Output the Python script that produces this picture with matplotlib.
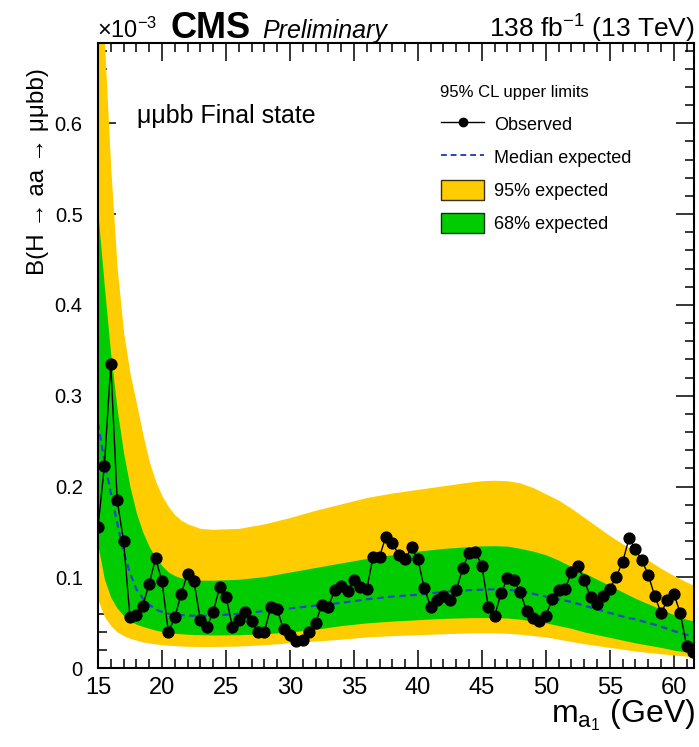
import numpy as np
import matplotlib
matplotlib.use('Agg')
from matplotlib import pyplot as plt
from matplotlib.patches import Patch
from matplotlib.lines import Line2D
from matplotlib.ticker import MultipleLocator, FuncFormatter

plt.rcParams['font.family'] = ['Liberation Sans', 'DejaVu Sans']
plt.rcParams['mathtext.fontset'] = 'custom'
plt.rcParams['mathtext.rm'] = 'Liberation Sans'
plt.rcParams['mathtext.it'] = 'Liberation Sans:italic'

# 観測値 (単位 1e-3)
obs_mass = np.arange(15.0, 61.51, 0.5)
obs_limit = [0.155, 0.223, 0.335, 0.185, 0.140, 0.056, 0.059, 0.069, 0.093, 0.121,
             0.096, 0.040, 0.056, 0.082, 0.104, 0.096, 0.053, 0.045, 0.062, 0.089,
             0.079, 0.046, 0.053, 0.062, 0.052, 0.040, 0.040, 0.067, 0.065, 0.043,
             0.037, 0.030, 0.031, 0.040, 0.050, 0.070, 0.068, 0.086, 0.091, 0.085,
             0.097, 0.089, 0.087, 0.123, 0.123, 0.145, 0.138, 0.125, 0.120, 0.133,
             0.120, 0.088, 0.068, 0.075, 0.080, 0.075, 0.086, 0.110, 0.127, 0.128,
             0.113, 0.068, 0.058, 0.083, 0.099, 0.097, 0.084, 0.063, 0.055, 0.052,
             0.058, 0.076, 0.086, 0.087, 0.106, 0.113, 0.097, 0.078, 0.071, 0.080,
             0.087, 0.101, 0.117, 0.143, 0.131, 0.119, 0.103, 0.080, 0.061, 0.075,
             0.082, 0.061, 0.025, 0.018]

# 期待値バンド
band_mass = [15, 15.5, 16, 16.5, 17, 17.5, 18, 18.5, 19, 19.5, 20, 20.5, 21, 21.5,
             22, 23, 24, 26, 28, 30, 32, 34, 36, 38, 40, 42, 44, 45, 46, 47, 48,
             49, 50, 51, 52, 53, 54, 55, 56, 57, 58, 59, 60, 61, 61.6]
median = [0.270, 0.228, 0.193, 0.160, 0.128, 0.105, 0.087, 0.077, 0.070, 0.065,
          0.062, 0.060, 0.059, 0.0585, 0.058, 0.0578, 0.058, 0.060, 0.063, 0.066,
          0.069, 0.072, 0.076, 0.079, 0.081, 0.084, 0.086, 0.0865, 0.087, 0.0865,
          0.085, 0.082, 0.079, 0.076, 0.073, 0.069, 0.065, 0.061, 0.057, 0.054,
          0.050, 0.046, 0.041, 0.037, 0.034]
up95 = [0.800, 0.690, 0.550, 0.440, 0.370, 0.325, 0.292, 0.258, 0.228, 0.206,
        0.190, 0.178, 0.169, 0.163, 0.159, 0.154, 0.153, 0.154, 0.159, 0.166,
        0.174, 0.181, 0.188, 0.193, 0.197, 0.201, 0.205, 0.2065, 0.207, 0.2065,
        0.204, 0.199, 0.192, 0.185, 0.176, 0.166, 0.156, 0.146, 0.137, 0.128,
        0.119, 0.110, 0.102, 0.095, 0.091]
up68 = [0.500, 0.420, 0.345, 0.285, 0.237, 0.200, 0.171, 0.150, 0.134, 0.122,
        0.113, 0.106, 0.102, 0.0995, 0.098, 0.097, 0.097, 0.098, 0.101, 0.106,
        0.111, 0.116, 0.121, 0.125, 0.129, 0.132, 0.134, 0.1348, 0.135, 0.1345,
        0.132, 0.129, 0.125, 0.119, 0.112, 0.105, 0.098, 0.091, 0.084, 0.077,
        0.071, 0.065, 0.059, 0.054, 0.052]
lo68 = [0.135, 0.098, 0.078, 0.066, 0.058, 0.052, 0.0485, 0.046, 0.044, 0.042,
        0.0405, 0.0395, 0.0385, 0.038, 0.0375, 0.037, 0.0367, 0.037, 0.038, 0.040,
        0.043, 0.047, 0.050, 0.052, 0.0535, 0.055, 0.0557, 0.0558, 0.0557, 0.0553,
        0.054, 0.052, 0.050, 0.047, 0.044, 0.040, 0.037, 0.034, 0.031, 0.028,
        0.0255, 0.023, 0.020, 0.0178, 0.0165]
lo95 = [0.075, 0.057, 0.047, 0.040, 0.036, 0.033, 0.031, 0.029, 0.0278, 0.0268,
        0.026, 0.0254, 0.025, 0.0245, 0.0242, 0.024, 0.024, 0.0245, 0.026, 0.028,
        0.030, 0.032, 0.0345, 0.036, 0.037, 0.038, 0.039, 0.039, 0.039, 0.0385,
        0.0375, 0.036, 0.0345, 0.032, 0.0295, 0.027, 0.025, 0.023, 0.021, 0.019,
        0.0175, 0.016, 0.0147, 0.0133, 0.0127]

yellow = '#ffcc00'
green = '#00cc00'
blue = '#2446c8'

W, H = 699, 747
fig = plt.figure(figsize=(W / 100, H / 100), dpi=100)
ax = fig.add_axes([98 / W, 1 - 668.3 / H, 596.3 / W, 625 / H])

ax.fill_between(band_mass, lo95, up95, color=yellow, lw=0)
ax.fill_between(band_mass, lo68, up68, color=green, lw=0)
ax.plot(band_mass, median, color=blue, lw=1.6, ls=(0, (3, 2)))
ax.plot(obs_mass, obs_limit, color='black', lw=1.0, marker='o', ms=7.8)

ax.set_xlim(15, 61.6)
ax.set_ylim(0, 0.688)
ax.set_axisbelow(True)

ax.xaxis.set_major_locator(MultipleLocator(5))
ax.xaxis.set_minor_locator(MultipleLocator(1))
ax.yaxis.set_major_locator(MultipleLocator(0.1))
ax.yaxis.set_minor_locator(MultipleLocator(0.02))
ax.yaxis.set_major_formatter(FuncFormatter(lambda v, _: '0' if abs(v) < 1e-9 else f'{v:.1f}'))

ax.tick_params(which='both', direction='in', top=True, right=True, width=1.1)
ax.tick_params(which='major', length=13)
ax.tick_params(which='minor', length=6.5)
ax.tick_params(axis='x', labelsize=17, pad=6)
ax.tick_params(axis='y', labelsize=14.5, pad=11)
for s in ax.spines.values():
    s.set_linewidth(1.5)

# 凡例
handles = [Line2D([], [], color='black', lw=1.0, marker='o', ms=6),
           Line2D([], [], color=blue, lw=1.4, ls=(0, (3, 2))),
           Patch(facecolor=yellow, edgecolor='#3a3000', lw=1.0),
           Patch(facecolor=green, edgecolor='#003a00', lw=1.0)]
labels = ['Observed', 'Median expected', '95% expected', '68% expected']
ax.text(0.5735, 0.921, '95% CL upper limits', transform=ax.transAxes,
        fontsize=12, ha='left', va='center')
ax.legend(handles, labels, loc='upper left', bbox_to_anchor=(0.5755, 0.8866),
          frameon=False, fontsize=13, handlelength=2.38, handleheight=1.33,
          handletextpad=0.55, labelspacing=0.72, borderpad=0, borderaxespad=0)

# テキスト
fig.text(97 / W, 1 - 38 / H, '×10$^{-3}$', fontsize=17, ha='left', va='baseline')
fig.text(170 / W, 1 - 38 / H, 'CMS', fontsize=26, weight='bold', ha='left', va='baseline')
fig.text(262 / W, 1 - 38 / H, 'Preliminary', fontsize=18, style='italic', ha='left', va='baseline')
fig.text(695 / W, 1 - 38 / H, '138 fb$^{-1}$ (13 TeV)', fontsize=19, ha='right', va='baseline')
fig.text(137 / W, 1 - 123 / H, 'μμbb Final state', fontsize=18, ha='left', va='baseline')
fig.text(695 / W, 1 - 722 / H, 'm$_{\\mathregular{a}_{\\mathregular{1}}}$ (GeV)', fontsize=23,
         ha='right', va='baseline')
fig.text(38 / W, 1 - 68 / H, 'B(H → aa → μμbb)', fontsize=17.5, rotation=90,
         ha='center', va='top')

fig.savefig('out.png', dpi=100)
plt.close()
